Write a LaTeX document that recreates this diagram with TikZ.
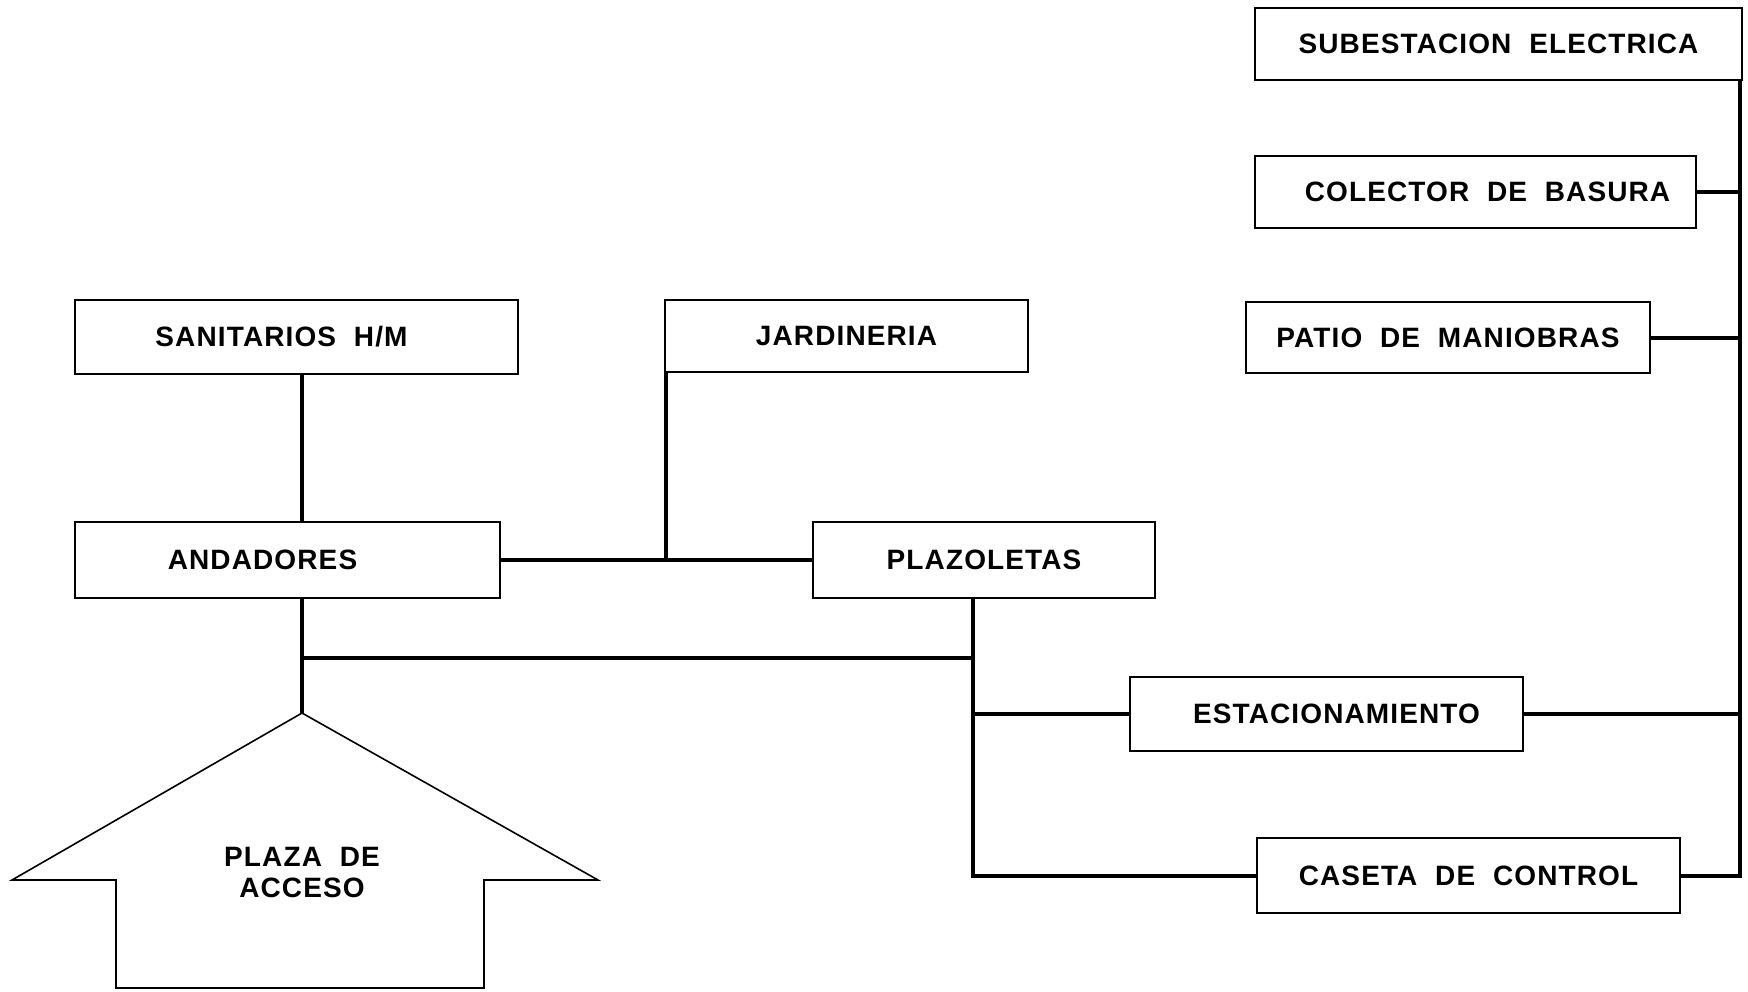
\documentclass[tikz,border=0pt]{standalone}
\usepackage{fontspec}
\setmainfont{Liberation Sans}[LetterSpace=4]
\begin{document}
\begin{tikzpicture}[x=0.5pt,y=-0.5pt,
  box/.style={draw,line width=0.8pt,inner sep=0pt,font=\bfseries\fontsize{14}{16}\selectfont},
  conn/.style={line width=2pt},
  shape line/.style={line width=0.8pt,line join=miter},
  lbl/.style={font=\bfseries\fontsize{14}{15.5}\selectfont,align=center,inner sep=0pt}]
\useasboundingbox (0,0) rectangle (1748,991);
% boxes
\node[box,minimum width=243.5pt,minimum height=36pt] (sub) at (1498.5,44) {SUBESTACION\ \ ELECTRICA};
\node[box,minimum width=220.5pt,minimum height=36pt] (col) at (1475.5,192) {\hspace*{12pt}COLECTOR\ \ DE\ \ BASURA};
\node[box,minimum width=202pt,minimum height=35.5pt] (pat) at (1448,337.5) {PATIO\ \ DE\ \ MANIOBRAS};
\node[box,minimum width=221.5pt,minimum height=37pt] (san) at (296.5,337) {SANITARIOS\ \ H/M\hspace*{15pt}};
\node[box,minimum width=181.5pt,minimum height=36pt] (jar) at (846.5,336) {JARDINERIA};
\node[box,minimum width=212.5pt,minimum height=38pt] (and) at (287.5,560) {ANDADORES\hspace*{25pt}};
\node[box,minimum width=171pt,minimum height=38pt] (pla) at (984,560) {PLAZOLETAS};
\node[box,minimum width=196.5pt,minimum height=37pt] (est) at (1326.5,714) {\hspace*{10pt}ESTACIONAMIENTO};
\node[box,minimum width=211.5pt,minimum height=37.5pt] (cas) at (1468.5,875.5) {CASETA\ \ DE\ \ CONTROL};
% arrow shape (plaza de acceso)
\coordinate (tip) at (302,713);
\coordinate (rw) at (598,880);
\coordinate (rs) at (484,880);
\coordinate (rb) at (484,988);
\coordinate (lb) at (116,988);
\coordinate (ls) at (116,880);
\coordinate (lw) at (12,880);
\draw[shape line] (tip) -- (rw) -- (rs) -- (rb) -- (lb) -- (ls) -- (lw) -- cycle;
\node[lbl] (plaza) at (302,872) {PLAZA\ \ DE\\ACCESO};
% junctions
\coordinate (j1) at (302,658);
\coordinate (j2) at (973,658);
\coordinate (bus) at (1740,80);
% connectors
\draw[conn] (tip |- san.south) -- (tip |- and.north);
\draw[conn] (tip |- and.south) -- (tip);
\draw[conn] (and.east) -- (pla.west);
\draw[conn] ([xshift=1pt]jar.south west) -- ([xshift=1pt]jar.south west |- and.east);
\draw[conn] (j2 |- pla.south) -- (j2 |- cas.west) -- (cas.west);
\draw[conn] (j1) -- (j2);
\draw[conn] (j2 |- est.west) -- (est.west);
\draw[conn] (est.east) -- (bus |- est.east);
\draw[conn] (bus |- sub.south) -- (bus |- cas.east) -- (cas.east);
\draw[conn] (col.east) -- (bus |- col.east);
\draw[conn] (pat.east) -- (bus |- pat.east);
\end{tikzpicture}
\end{document}
